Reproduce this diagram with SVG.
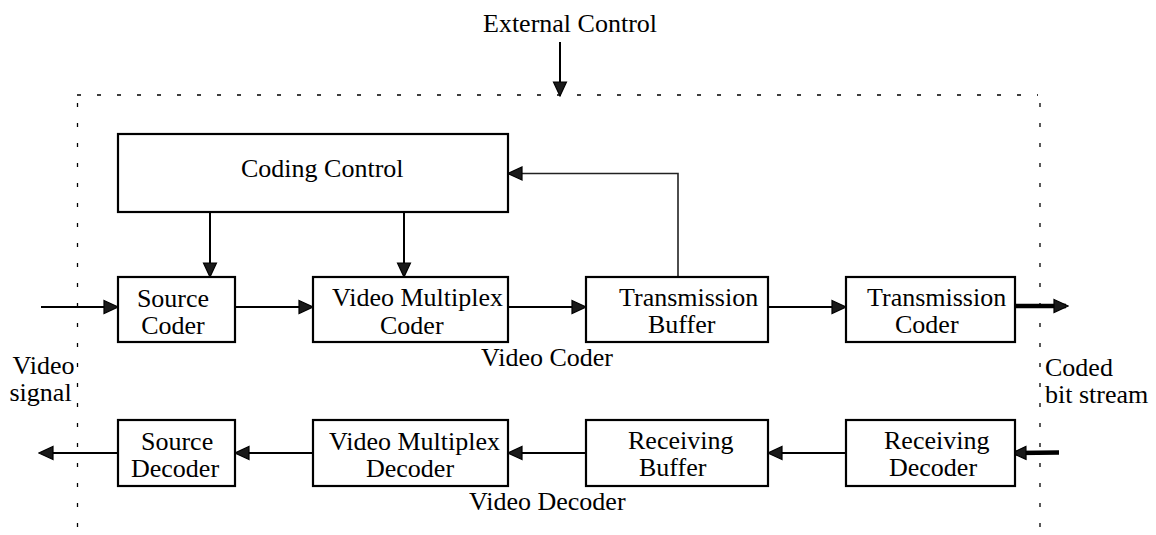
<svg xmlns="http://www.w3.org/2000/svg" width="1156" height="535" viewBox="0 0 1156 535">
<style>
  .box { fill: #fff; stroke: #000; stroke-width: 2.2; }
  .t { font-family: "Liberation Serif", "Times New Roman", serif; font-size: 26px; fill: #000; }
  .line { fill: none; stroke: #000; stroke-width: 2; }
  .thin { fill: none; stroke: #222; stroke-width: 1.6; }
  .thick { fill: none; stroke: #000; stroke-width: 4.5; }
  .dash { fill: none; stroke: #000; stroke-width: 1.3; stroke-dasharray: 4 16; }
</style>
<defs>
  <marker id="arr" markerUnits="userSpaceOnUse" markerWidth="16" markerHeight="16" viewBox="0 0 16 16" refX="13" refY="8" orient="auto">
    <path d="M1,1.5 L15,8 L1,14.5 Z" fill="#1a1a1a" stroke="#000" stroke-width="1.2" stroke-linejoin="miter"/>
  </marker>
</defs>
<rect width="1156" height="535" fill="#fff"/>

<g id="frame">
  <line class="dash" x1="77" y1="95" x2="1038" y2="95"/>
  <line class="dash" x1="77.5" y1="103" x2="77.5" y2="530"/>
  <line class="dash" x1="1040" y1="103" x2="1040" y2="530"/>
</g>

<g id="labels">
  <text class="t" x="483" y="32">External Control</text>
  <text class="t" x="481" y="366">Video Coder</text>
  <text class="t" x="469" y="510">Video Decoder</text>
  <text class="t" x="12.5" y="374">Video</text>
  <text class="t" x="9.5" y="401">signal</text>
  <text class="t" x="1045" y="376">Coded</text>
  <text class="t" x="1045" y="403">bit stream</text>
</g>

<g id="connectors">
  <line class="line" x1="560" y1="42" x2="560" y2="94" marker-end="url(#arr)"/>
  <line class="line" x1="210" y1="212" x2="210" y2="275" marker-end="url(#arr)"/>
  <line class="line" x1="404" y1="212" x2="404" y2="275" marker-end="url(#arr)"/>
  <line class="line" x1="41" y1="307" x2="116" y2="307" marker-end="url(#arr)"/>
  <line class="line" x1="235" y1="307" x2="311" y2="307" marker-end="url(#arr)"/>
  <line class="line" x1="508" y1="307" x2="584" y2="307" marker-end="url(#arr)"/>
  <line class="line" x1="768" y1="307" x2="844" y2="307" marker-end="url(#arr)"/>
  <line class="thick" x1="1015" y1="306" x2="1066" y2="306" marker-end="url(#arr)"/>
  <polyline class="thin" points="678,277 678,173.5 510,173.5" marker-end="url(#arr)"/>
  <line class="thick" x1="1059" y1="452.5" x2="1014" y2="453" marker-end="url(#arr)"/>
  <line class="line" x1="846" y1="453" x2="770" y2="453" marker-end="url(#arr)"/>
  <line class="line" x1="586" y1="453" x2="510" y2="453" marker-end="url(#arr)"/>
  <line class="line" x1="313" y1="453" x2="237" y2="453" marker-end="url(#arr)"/>
  <line class="line" x1="118" y1="453" x2="41" y2="453" marker-end="url(#arr)"/>
</g>

<g id="coding-control">
  <rect class="box" x="118" y="134" width="390" height="78"/>
  <text class="t" x="241" y="177">Coding Control</text>
</g>
<g id="source-coder">
  <rect class="box" x="118" y="277" width="117" height="65"/>
  <text class="t" x="173" y="307" text-anchor="middle">Source</text>
  <text class="t" x="173" y="334" text-anchor="middle">Coder</text>
</g>
<g id="video-multiplex-coder">
  <rect class="box" x="313" y="277" width="195" height="65"/>
  <text class="t" x="332" y="306">Video Multiplex</text>
  <text class="t" x="380" y="334">Coder</text>
</g>
<g id="transmission-buffer">
  <rect class="box" x="586" y="277" width="182" height="65"/>
  <text class="t" x="619" y="306">Transmission</text>
  <text class="t" x="648" y="333">Buffer</text>
</g>
<g id="transmission-coder">
  <rect class="box" x="846" y="277" width="169" height="65"/>
  <text class="t" x="867" y="306">Transmission</text>
  <text class="t" x="895" y="333">Coder</text>
</g>
<g id="source-decoder">
  <rect class="box" x="118" y="420" width="117" height="66"/>
  <text class="t" x="141" y="450">Source</text>
  <text class="t" x="131" y="477">Decoder</text>
</g>
<g id="video-multiplex-decoder">
  <rect class="box" x="313" y="420" width="195" height="66"/>
  <text class="t" x="329" y="450">Video Multiplex</text>
  <text class="t" x="366" y="477">Decoder</text>
</g>
<g id="receiving-buffer">
  <rect class="box" x="586" y="420" width="182" height="66"/>
  <text class="t" x="628" y="449">Receiving</text>
  <text class="t" x="639" y="476">Buffer</text>
</g>
<g id="receiving-decoder">
  <rect class="box" x="846" y="420" width="169" height="66"/>
  <text class="t" x="884" y="449">Receiving</text>
  <text class="t" x="889" y="476">Decoder</text>
</g>
</svg>
